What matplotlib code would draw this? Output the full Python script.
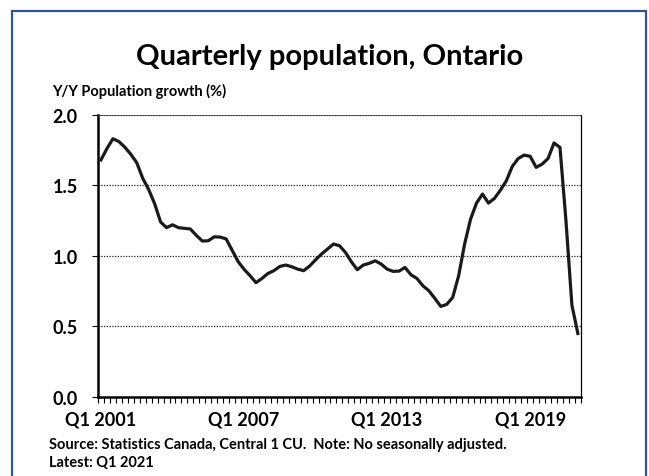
import matplotlib
matplotlib.use("Agg")
import matplotlib.pyplot as plt
from matplotlib.patches import Rectangle
from matplotlib.ticker import FixedLocator, FuncFormatter

# Y/Y population growth (%), quarterly, Q1 2001 .. Q1 2021
growth = [
    1.68, 1.76, 1.83, 1.81, 1.77, 1.72, 1.66, 1.55, 1.47, 1.37,
    1.24, 1.20, 1.22, 1.20, 1.195, 1.19, 1.145, 1.105, 1.107, 1.135,
    1.133, 1.12, 1.04, 0.96, 0.905, 0.86, 0.81, 0.84, 0.875, 0.895,
    0.925, 0.935, 0.923, 0.906, 0.895, 0.928, 0.972, 1.013, 1.048, 1.084,
    1.072, 1.025, 0.958, 0.902, 0.935, 0.947, 0.965, 0.942, 0.906, 0.89,
    0.892, 0.918, 0.866, 0.84, 0.788, 0.753, 0.699, 0.642, 0.656, 0.706,
    0.859, 1.084, 1.26, 1.374, 1.438, 1.374, 1.407, 1.465, 1.532, 1.634,
    1.69, 1.714, 1.705, 1.627, 1.65, 1.69, 1.80, 1.768, 1.25, 0.65,
    0.45,
]
quarters = [f"Q{q % 4 + 1} {2001 + q // 4}" for q in range(len(growth))]
label_every = 24
y_ticks = [0.0, 0.5, 1.0, 1.5, 2.0]

plt.rcParams["font.family"] = ["Lato", "DejaVu Sans"]
plt.rcParams["font.weight"] = "bold"

fig = plt.figure(figsize=(6.49, 4.77), dpi=100)
ax = fig.add_axes([0.151, 0.1656, 0.744, 0.5918])

x = list(range(len(growth)))
ax.plot(x, growth, color="#1a1a1a", lw=2.3, solid_joinstyle="round", zorder=3)

ax.set_xlim(-0.5, len(growth) - 0.5)
ax.set_ylim(0, 2.0)

ax.set_yticks(y_ticks)
ax.yaxis.set_major_formatter(FuncFormatter(lambda v, p: f"{v:.1f}"))
for v in y_ticks[1:]:
    ax.axhline(v, color="#222222", lw=0.9, ls=(0, (1, 1.2)), zorder=1)

major = [i for i in x if i % label_every == 0]
ax.xaxis.set_major_locator(FixedLocator(major))
ax.set_xticklabels([quarters[i] for i in major])
ax.xaxis.set_minor_locator(FixedLocator([i - 0.5 for i in range(len(growth) + 1)]))

ax.tick_params(axis="x", which="major", length=0, pad=10, labelsize=13)
ax.tick_params(axis="x", which="minor", length=4, width=0.8, direction="out")
ax.tick_params(axis="y", length=4.5, width=0.8, direction="out", labelsize=13, pad=10)
for lab in ax.get_xticklabels() + ax.get_yticklabels():
    lab.set_fontweight("bold")

for side in ("left", "bottom"):
    ax.spines[side].set_linewidth(1.8)
ax.spines["right"].set_linewidth(0.9)
ax.spines["top"].set_linewidth(0.6)
ax.spines["top"].set_color("#444444")

fig.text(0.508, 0.8637, "Quarterly population, Ontario", ha="center", va="baseline",
         fontsize=21, fontweight="bold")
fig.text(0.080, 0.808, "Y/Y Population growth (%)", ha="left", va="center",
         fontsize=10.5, fontweight="bold")
fig.text(0.075, 0.067, "Source: Statistics Canada, Central 1 CU.  Note: No seasonally adjusted.",
         ha="left", va="center", fontsize=10.5, fontweight="bold")
fig.text(0.075, 0.029, "Latest: Q1 2021", ha="left", va="center", fontsize=10.5,
         fontweight="bold")

# blue frame around the chart (bottom edge runs off the image)
fig.patches.append(Rectangle((12 / 649, -0.05), 634 / 649, 1.05 - 12 / 477,
                             transform=fig.transFigure, fill=False,
                             edgecolor="#2f5597", lw=1.6, clip_on=False))

fig.savefig("out.png", dpi=100)
